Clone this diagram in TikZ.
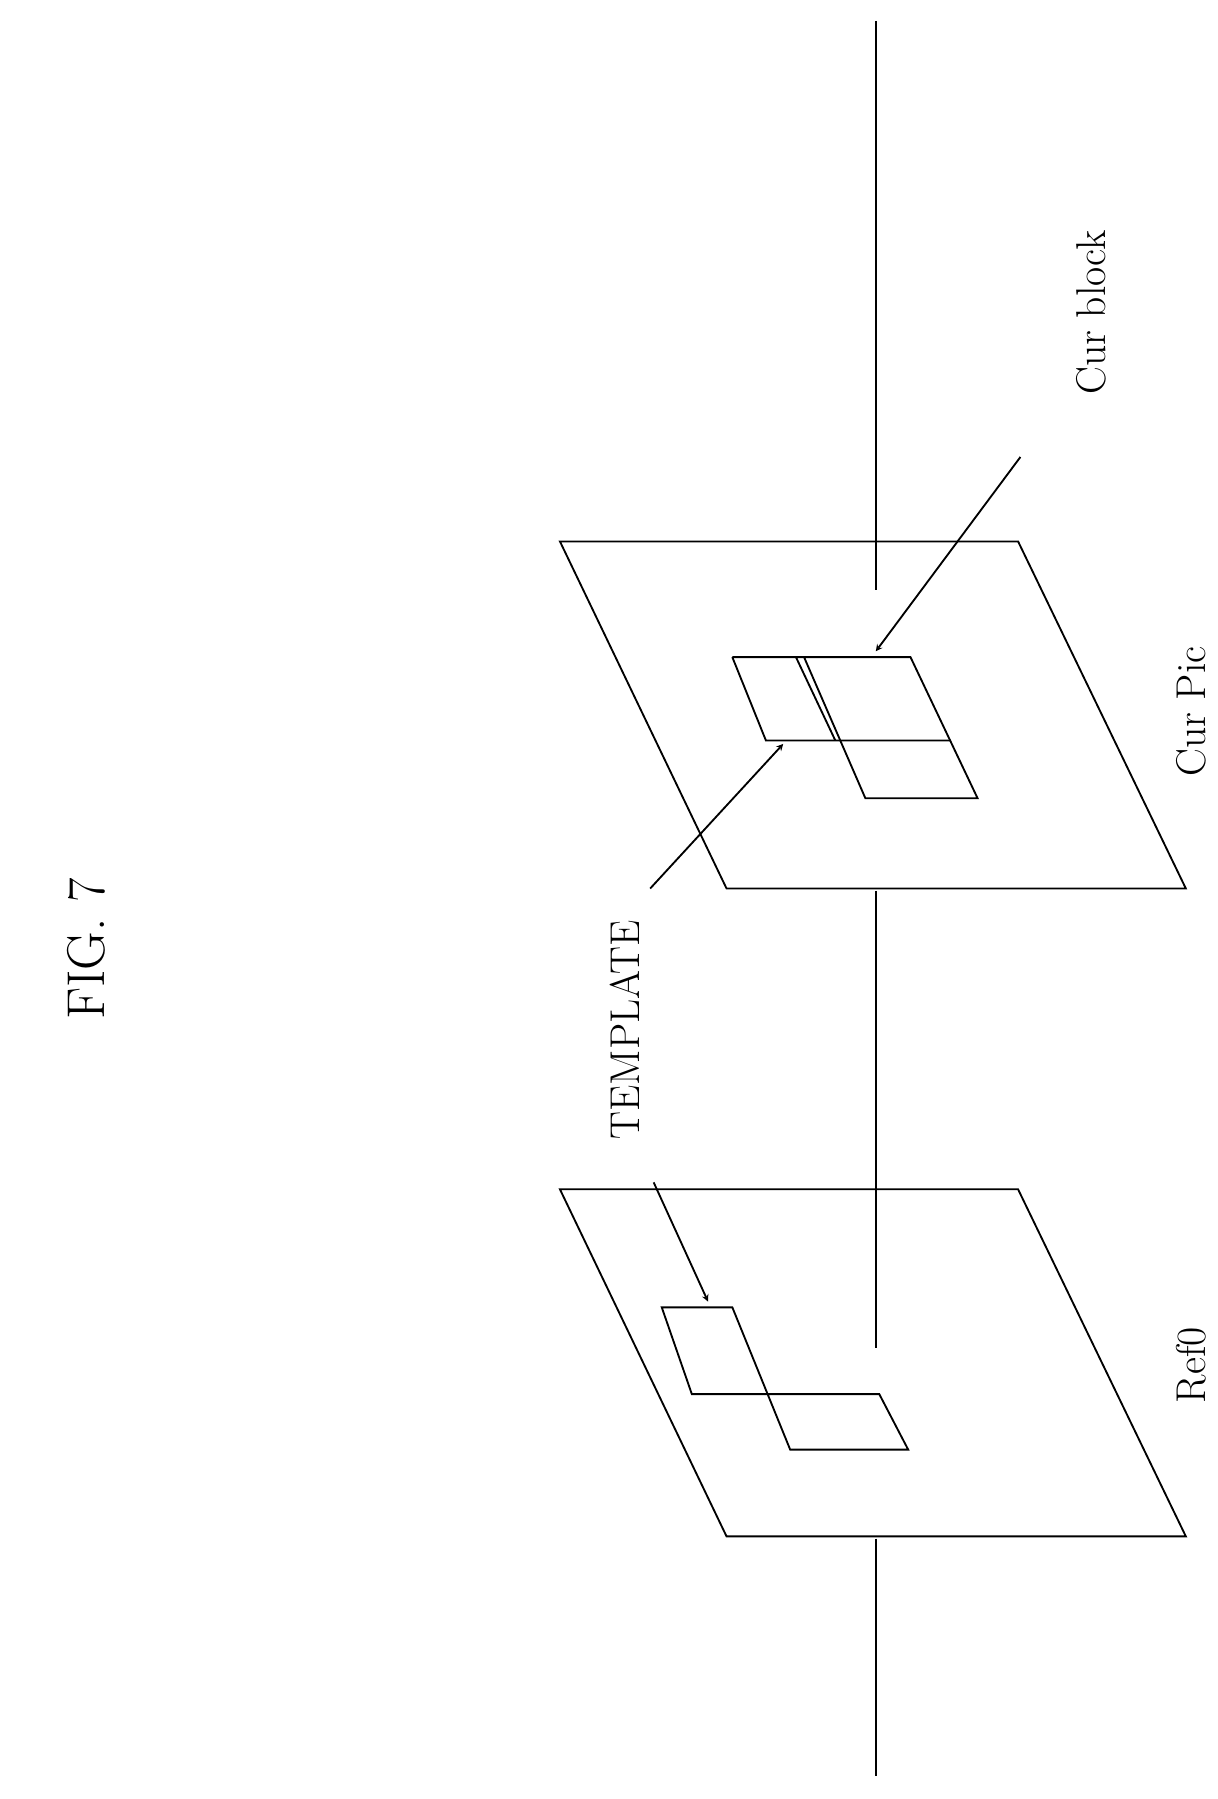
\documentclass[tikz,border=0pt]{standalone}
\begin{document}
\begin{tikzpicture}[x=1pt,y=-1pt,line width=1.6pt,
 lbl/.style={rotate=90,inner sep=0pt,font=\fontsize{36}{40}\selectfont},
 arr/.style={->,>=stealth,shorten >=0pt}]
\useasboundingbox (0,0) rectangle (1052,1555);
% axis
\coordinate (a1) at (757,18); \coordinate (a2) at (757,510);
\coordinate (a3) at (757,770); \coordinate (a4) at (757,1165);
\coordinate (a5) at (757,1330); \coordinate (a6) at (757,1535);
\draw (a1)--(a2); \draw (a3)--(a4); \draw (a5)--(a6);
% Cur Pic
\draw (484,468)--(880,468)--(1025,768)--(628,768)--cycle;
\draw (633,568)--(787,568)--(845,690)--(748,690)--(695,568);
\draw (633,568)--(662,640)--(822,640);
\draw (688,568)--(722,640);
% Ref0
\draw (484,1028)--(880,1028)--(1025,1328)--(628,1328)--cycle;
\draw (572,1130)--(633,1130)--(683,1253)--(785,1253)--(760,1205)--(598,1205)--cycle;
% labels
\node[lbl,font=\fontsize{46}{50}\selectfont] (fig) at (75,820) {FIG. 7};
\node[lbl] (cb) at (943,270) {Cur block};
\node[lbl] (cp) at (1030,615) {Cur Pic};
\node[lbl] (r0) at (1030,1180) {Ref0};
\node[lbl] (tp) at (540,890) {TEMPLATE};
\coordinate (cbs) at (882,395); \coordinate (cbe) at (757,563);
\coordinate (t1s) at (562,768); \coordinate (t1e) at (677,643);
\coordinate (t2s) at (565,1022); \coordinate (t2e) at (612,1125);
\draw[arr] (cbs)--(cbe);
\draw[arr] (t1s)--(t1e);
\draw[arr] (t2s)--(t2e);
\end{tikzpicture}
\end{document}
